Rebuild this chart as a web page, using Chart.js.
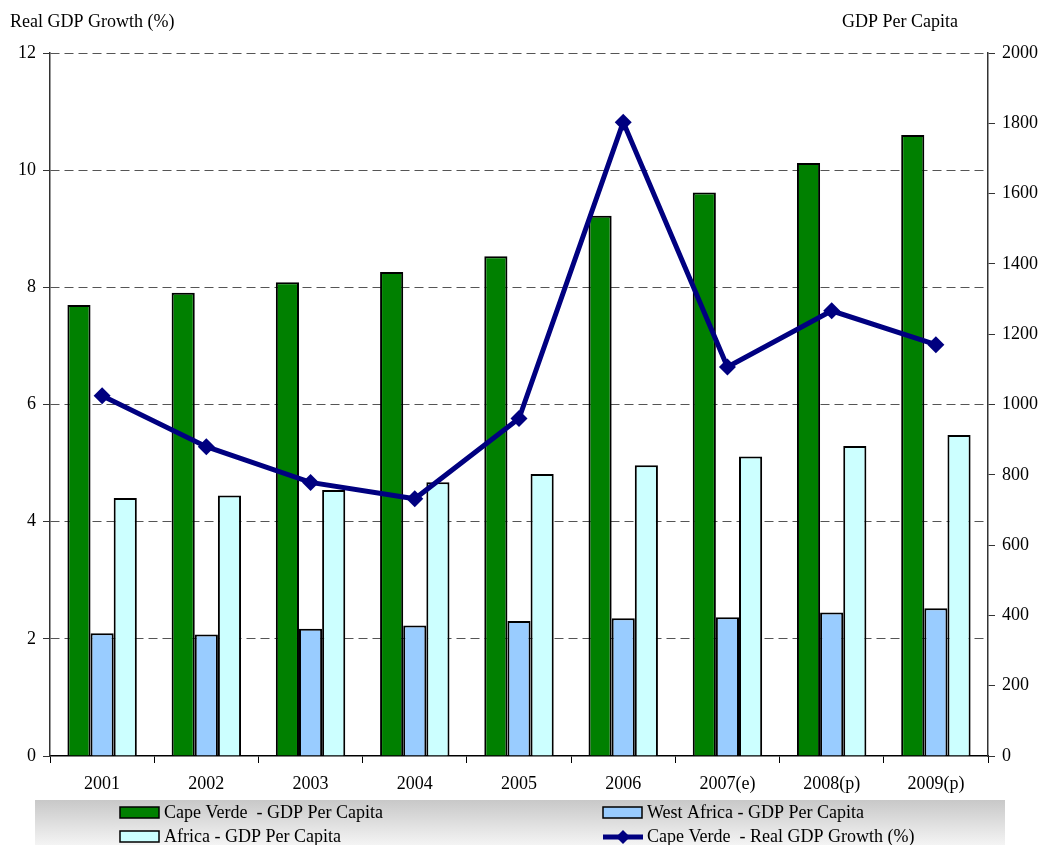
<!DOCTYPE html>
<html>
<head>
<meta charset="utf-8">
<script src="https://cdn.jsdelivr.net/npm/chart.js@4"></script>
<style>
  html, body { margin: 0; padding: 0; background: #fff; }
  #wrap { width: 1041px; height: 845px; }
</style>
</head>
<body>
<div id="wrap"><canvas id="gdpChart"></canvas></div>
<script>
const years = ["2001", "2002", "2003", "2004", "2005", "2006", "2007(e)", "2008(p)", "2009(p)"];
const capeVerdePerCapita = [1283, 1318, 1348, 1377, 1422, 1537, 1603, 1687, 1767];
const westAfricaPerCapita = [349, 346, 362, 371, 384, 392, 395, 408, 420];
const africaPerCapita = [734, 741, 757, 779, 802, 827, 852, 882, 913];
const capeVerdeGrowth = [6.15, 5.28, 4.67, 4.39, 5.76, 10.82, 6.64, 7.6, 7.02];

const serif = "'Liberation Serif', 'Times New Roman', serif";

// axis titles and the grey legend band below the plot
const extras = {
  id: "extras",
  afterDraw(chart) {
    const ctx = chart.ctx;
    ctx.save();
    ctx.fillStyle = "#000";
    ctx.font = "18px " + serif;
    ctx.textBaseline = "middle";
    ctx.textAlign = "left";
    ctx.fillText("Real GDP Growth (%)", 10, 22);
    ctx.fillText("GDP Per Capita", 842, 22);

    const grad = ctx.createLinearGradient(0, 800, 0, 845);
    grad.addColorStop(0, "#c8c8c8");
    grad.addColorStop(1, "#f4f4f4");
    ctx.fillStyle = grad;
    ctx.fillRect(35, 800, 970, 45);

    const items = [
      { label: "Cape Verde  - GDP Per Capita", color: "#008000", x: 120, y: 813 },
      { label: "West Africa - GDP Per Capita", color: "#99CCFF", x: 603, y: 813 },
      { label: "Africa - GDP Per Capita", color: "#CCFFFF", x: 120, y: 837 },
      { label: "Cape Verde  - Real GDP Growth (%)", line: true, x: 603, y: 837 },
    ];
    items.forEach((it) => {
      if (it.line) {
        ctx.strokeStyle = "#000080";
        ctx.lineWidth = 5;
        ctx.beginPath();
        ctx.moveTo(it.x, it.y);
        ctx.lineTo(it.x + 40, it.y);
        ctx.stroke();
        ctx.fillStyle = "#000080";
        ctx.beginPath();
        ctx.moveTo(it.x + 20, it.y - 7);
        ctx.lineTo(it.x + 27, it.y);
        ctx.lineTo(it.x + 20, it.y + 7);
        ctx.lineTo(it.x + 13, it.y);
        ctx.closePath();
        ctx.fill();
      } else {
        ctx.fillStyle = it.color;
        ctx.fillRect(it.x, it.y - 6, 39, 11);
        ctx.strokeStyle = "#000";
        ctx.lineWidth = 1.5;
        ctx.strokeRect(it.x, it.y - 6, 39, 11);
      }
      ctx.fillStyle = "#000";
      ctx.fillText(it.label, it.x + 44, it.y);
    });
    ctx.restore();
  },
};

new Chart(document.getElementById("gdpChart"), {
  data: {
    labels: years,
    datasets: [
      {
        type: "line",
        label: "Cape Verde  - Real GDP Growth (%)",
        data: capeVerdeGrowth,
        yAxisID: "y",
        borderColor: "#000080",
        backgroundColor: "#000080",
        borderWidth: 5,
        pointStyle: "rectRot",
        pointRadius: 8.5,
        pointBorderWidth: 0,
        tension: 0,
        order: 0,
      },
      {
        type: "bar",
        label: "Cape Verde  - GDP Per Capita",
        data: capeVerdePerCapita,
        yAxisID: "y1",
        backgroundColor: "#008000",
        borderColor: "#000",
        borderWidth: 2,
        order: 1,
      },
      {
        type: "bar",
        label: "West Africa - GDP Per Capita",
        data: westAfricaPerCapita,
        yAxisID: "y1",
        backgroundColor: "#99CCFF",
        borderColor: "#000",
        borderWidth: 2,
        order: 1,
      },
      {
        type: "bar",
        label: "Africa - GDP Per Capita",
        data: africaPerCapita,
        yAxisID: "y1",
        backgroundColor: "#CCFFFF",
        borderColor: "#000",
        borderWidth: 2,
        order: 1,
      },
    ],
  },
  options: {
    responsive: true,
    maintainAspectRatio: false,
    animation: false,
    layout: { padding: { top: 53, left: 0, right: 0, bottom: 0 } },
    datasets: {
      bar: { barPercentage: 1, categoryPercentage: 0.666 },
    },
    plugins: {
      legend: { display: false },
      tooltip: { enabled: false },
    },
    scales: {
      x: {
        offset: true,
        afterFit: (s) => { s.height = 89; },
        grid: {
          offset: true,
          drawOnChartArea: false,
          tickLength: 7,
          tickColor: "#000",
        },
        border: { color: "#000", width: 1.5 },
        ticks: { color: "#000", font: { family: serif, size: 18 }, padding: 10, maxRotation: 0 },
      },
      y: {
        position: "left",
        min: 0,
        max: 12,
        afterFit: (s) => { s.width = 50; },
        ticks: { stepSize: 2, color: "#000", font: { family: serif, size: 18 }, padding: 7 },
        grid: {
          color: (c) => (c.tick && c.tick.value === 0 ? "rgba(0,0,0,0)" : "#555"),
          lineWidth: 1,
          tickLength: 7,
          tickColor: "#333",
          tickBorderDash: [],
        },
        border: { color: "#333", width: 1.5, dash: [9, 5] },
      },
      y1: {
        position: "right",
        min: 0,
        max: 2000,
        afterFit: (s) => { s.width = 53; },
        ticks: {
          stepSize: 200,
          color: "#000",
          font: { family: serif, size: 18 },
          padding: 7,
          callback: (v) => String(v),
        },
        grid: {
          drawOnChartArea: false,
          tickLength: 7,
          tickColor: "#333",
        },
        border: { color: "#333", width: 1.5 },
      },
    },
  },
  plugins: [extras],
});
</script>
</body>
</html>
